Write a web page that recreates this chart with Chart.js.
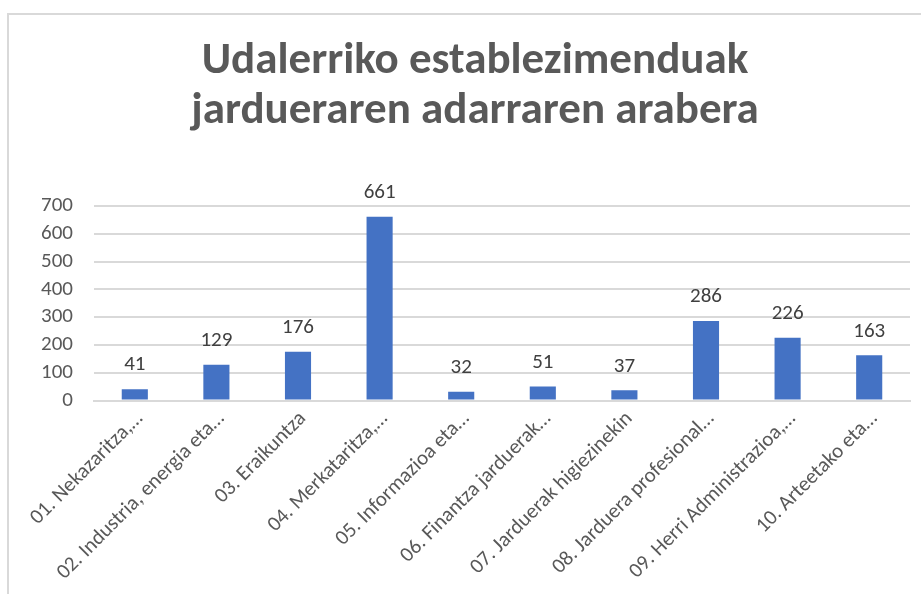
<!DOCTYPE html>
<html>
<head>
<meta charset="utf-8">
<script src="https://cdn.jsdelivr.net/npm/chart.js@4.4.0/dist/chart.umd.min.js"></script>
<style>
  html, body { margin: 0; padding: 0; background: #fff; overflow: hidden; }
  #frame {
    position: absolute; left: 7px; top: 13px;
    width: 960px; height: 620px;
    border: 2px solid #d9d9d9;
    box-sizing: border-box;
  }
  #wrap { position: absolute; left: -9px; top: -15px; width: 950px; height: 591px; }
</style>
</head>
<body>
<div id="frame">
  <div id="wrap"><canvas id="chart"></canvas></div>
</div>
<script>
// chart data
const titleLines = ['Udalerriko establezimenduak', 'jardueraren adarraren arabera'];
const categories = [
  '01. Nekazaritza,…',
  '02. Industria, energia eta…',
  '03. Eraikuntza',
  '04. Merkataritza,…',
  '05. Informazioa eta…',
  '06. Finantza jarduerak…',
  '07. Jarduerak higiezinekin',
  '08. Jarduera profesional…',
  '09. Herri Administrazioa,…',
  '10. Arteetako eta…'
];
const establishments = [41, 129, 176, 661, 32, 51, 37, 286, 226, 163];
const yTicks = [0, 100, 200, 300, 400, 500, 600, 700];

const textFont = 'Calibri, Carlito, "Liberation Sans", sans-serif';

// value labels above each bar
const barLabels = {
  id: 'barLabels',
  afterDatasetsDraw(chart) {
    const ctx = chart.ctx;
    const meta = chart.getDatasetMeta(0);
    ctx.save();
    ctx.font = '21px ' + textFont;
    ctx.fillStyle = '#404040';
    ctx.textAlign = 'center';
    ctx.textBaseline = 'middle';
    meta.data.forEach((bar, i) => {
      ctx.fillText(String(establishments[i]), bar.x, bar.y - 24);
    });
    ctx.restore();
  }
};

new Chart(document.getElementById('chart'), {
  type: 'bar',
  data: {
    labels: categories,
    datasets: [{
      data: establishments,
      backgroundColor: '#4472c4',
      borderWidth: 0,
      categoryPercentage: 1,
      barPercentage: 0.32
    }]
  },
  options: {
    responsive: true,
    maintainAspectRatio: false,
    animation: false,
    layout: { padding: 0 },
    plugins: {
      legend: { display: false },
      tooltip: { enabled: false },
      title: {
        display: true,
        text: titleLines,
        color: '#595959',
        font: { family: textFont, size: 45, weight: 'bold', lineHeight: 1.11 },
        padding: { top: 37, bottom: 69 }
      }
    },
    scales: {
      x: {
        grid: { display: false, drawTicks: false },
        border: { display: true, color: '#d9d9d9', width: 2 },
        ticks: {
          color: '#595959',
          font: { family: textFont, size: 21 },
          minRotation: 45,
          maxRotation: 45,
          autoSkip: false,
          padding: 6,
          labelOffset: 5
        },
        // first rotated label may run out to the left; keep a gap on the right
        afterFit(scale) { scale.paddingLeft = 0; scale.paddingRight = 40; }
      },
      y: {
        min: 0,
        max: 700,
        afterBuildTicks(axis) { axis.ticks = yTicks.map(v => ({ value: v })); },
        afterFit(scale) { scale.width = 94; },
        grid: { color: '#d9d9d9', lineWidth: 2, drawTicks: false },
        border: { display: false },
        ticks: {
          color: '#595959',
          font: { family: textFont, size: 21 },
          padding: 21,
          autoSkip: false
        }
      }
    }
  },
  plugins: [barLabels]
});
</script>
</body>
</html>
